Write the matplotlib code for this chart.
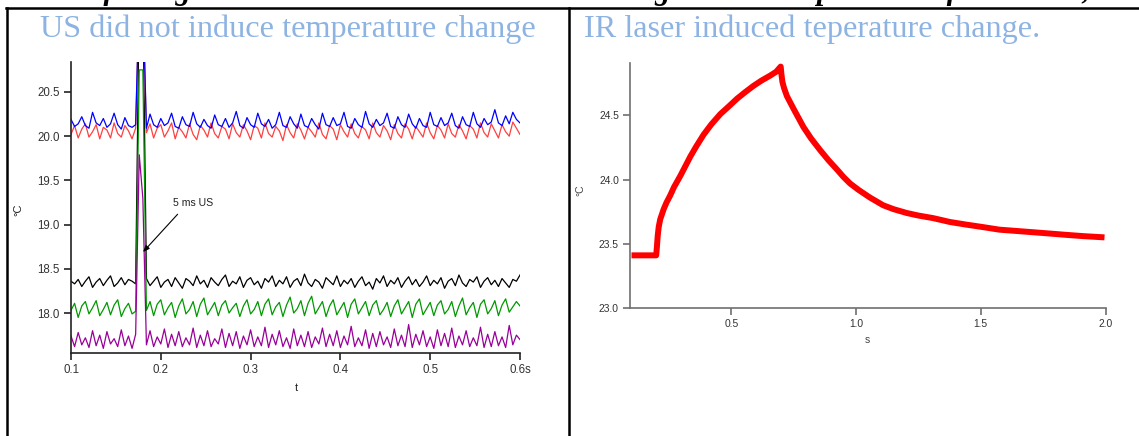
import numpy as np
import matplotlib
matplotlib.use('Agg')
import matplotlib.pyplot as plt
from matplotlib.lines import Line2D

# ---- left panel: 5 thermocouple traces, sampled every 4 ms from 0.1 s to 0.6 s
blue = [20.19, 20.11, 20.14, 20.22, 20.12, 20.09, 20.27, 20.15, 20.12, 20.20,
        20.10, 20.14, 20.26, 20.13, 20.08, 20.21, 20.12, 20.10, 20.13, 21.60,
        21.60, 20.09, 20.25, 20.13, 20.10, 20.20, 20.12, 20.15, 20.26, 20.11,
        20.09, 20.22, 20.13, 20.11, 20.27, 20.14, 20.10, 20.19, 20.12, 20.09,
        20.24, 20.13, 20.11, 20.20, 20.10, 20.15, 20.28, 20.12, 20.09, 20.21,
        20.13, 20.10, 20.26, 20.14, 20.11, 20.19, 20.09, 20.13, 20.27, 20.12,
        20.10, 20.22, 20.14, 20.09, 20.25, 20.12, 20.10, 20.20, 20.13, 20.08,
        20.26, 20.13, 20.11, 20.21, 20.12, 20.14, 20.27, 20.11, 20.09, 20.20,
        20.13, 20.10, 20.28, 20.14, 20.10, 20.19, 20.12, 20.15, 20.26, 20.11,
        20.09, 20.22, 20.13, 20.10, 20.25, 20.14, 20.09, 20.20, 20.12, 20.10,
        20.27, 20.13, 20.11, 20.21, 20.12, 20.15, 20.26, 20.12, 20.09, 20.22,
        20.13, 20.11, 20.27, 20.14, 20.10, 20.20, 20.13, 20.16, 20.30, 20.15,
        20.12, 20.23, 20.14, 20.27, 20.19, 20.15]
red = [20.02, 20.12, 19.98, 20.08, 20.14, 19.99, 20.05, 20.13, 19.97, 20.10,
       20.07, 19.98, 20.15, 20.03, 19.99, 20.12, 20.06, 19.97, 20.09, 21.60,
       21.60, 20.04, 20.14, 19.98, 20.09, 20.13, 19.99, 20.06, 20.15, 19.97,
       20.10, 20.05, 19.98, 20.14, 20.02, 19.96, 20.12, 20.07, 19.99, 20.15,
       20.03, 19.98, 20.11, 20.08, 19.97, 20.14, 20.04, 19.99, 20.13, 20.06,
       19.96, 20.12, 20.09, 19.98, 20.15, 20.03, 19.99, 20.11, 20.06, 19.95,
       20.13, 20.04, 19.98, 20.14, 20.07, 19.97, 20.10, 20.05, 19.99, 20.15,
       20.02, 19.97, 20.12, 20.08, 19.96, 20.13, 20.05, 19.99, 20.14, 20.03,
       19.98, 20.11, 20.07, 19.97, 20.15, 20.04, 19.99, 20.12, 20.06, 19.96,
       20.13, 20.03, 19.98, 20.14, 20.08, 19.97, 20.11, 20.05, 19.99, 20.15,
       20.04, 19.97, 20.12, 20.07, 19.98, 20.14, 20.03, 19.99, 20.13, 20.06,
       19.97, 20.12, 20.08, 19.98, 20.15, 20.04, 19.99, 20.14, 20.06, 19.98,
       20.13, 20.05, 20.00, 20.16, 20.09, 20.02]
black = [18.36, 18.33, 18.38, 18.30, 18.36, 18.41, 18.29, 18.35, 18.39, 18.31,
         18.37, 18.42, 18.30, 18.34, 18.40, 18.32, 18.38, 18.36, 18.33, 21.60,
         21.60, 18.39, 18.31, 18.36, 18.41, 18.29, 18.35, 18.38, 18.30, 18.40,
         18.34, 18.28, 18.39, 18.36, 18.31, 18.42, 18.33, 18.37, 18.29, 18.40,
         18.35, 18.31, 18.38, 18.43, 18.30, 18.36, 18.33, 18.41, 18.29, 18.37,
         18.40, 18.32, 18.36, 18.28, 18.39, 18.35, 18.42, 18.30, 18.37, 18.33,
         18.41, 18.29, 18.36, 18.39, 18.31, 18.44, 18.34, 18.30, 18.38, 18.35,
         18.28, 18.40, 18.36, 18.32, 18.42, 18.30, 18.37, 18.33, 18.39, 18.29,
         18.36, 18.41, 18.31, 18.35, 18.27, 18.39, 18.34, 18.42, 18.30, 18.37,
         18.33, 18.40, 18.29, 18.36, 18.41, 18.32, 18.38, 18.30, 18.35, 18.42,
         18.31, 18.37, 18.33, 18.40, 18.28, 18.36, 18.39, 18.31, 18.43, 18.34,
         18.30, 18.38, 18.35, 18.41, 18.29, 18.36, 18.40, 18.32, 18.37, 18.30,
         18.39, 18.34, 18.29, 18.38, 18.36, 18.43]
green = [18.03, 18.11, 17.95, 18.08, 18.13, 17.99, 18.06, 18.14, 17.97, 18.04,
         18.12, 17.98, 18.09, 18.15, 17.96, 18.05, 18.11, 17.99, 18.02, 20.75,
         20.75, 18.03, 18.13, 17.97, 18.10, 18.15, 17.98, 18.06, 18.12, 17.95,
         18.08, 18.16, 17.99, 18.04, 18.13, 17.96, 18.10, 18.17, 17.98, 18.05,
         18.12, 17.97, 18.09, 18.14, 18.00, 18.06, 18.11, 17.96, 18.08, 18.15,
         17.99, 18.04, 18.13, 17.97, 18.10, 18.16, 17.98, 18.07, 18.12, 17.96,
         18.09, 18.18, 18.00, 18.05, 18.14, 17.97, 18.11, 18.19, 17.99, 18.06,
         18.13, 17.96, 18.08, 18.15, 17.98, 18.05, 18.12, 17.95, 18.10, 18.16,
         17.99, 18.06, 18.13, 17.97, 18.09, 18.14, 17.98, 18.04, 18.12, 17.96,
         18.08, 18.15, 17.99, 18.06, 18.13, 17.95, 18.10, 18.16, 17.98, 18.05,
         18.12, 17.97, 18.09, 18.14, 17.99, 18.04, 18.13, 17.96, 18.08, 18.17,
         17.98, 18.06, 18.12, 17.95, 18.10, 18.15, 17.99, 18.05, 18.14, 17.97,
         18.09, 18.16, 18.01, 18.07, 18.13, 18.08]
purple = [17.74, 17.62, 17.78, 17.64, 17.72, 17.61, 17.80, 17.63, 17.75, 17.60,
          17.79, 17.65, 17.71, 17.62, 17.81, 17.63, 17.74, 17.60, 17.76, 19.79,
          19.30, 17.64, 17.80, 17.62, 17.73, 17.65, 17.82, 17.61, 17.76, 17.63,
          17.79, 17.62, 17.72, 17.64, 17.83, 17.61, 17.75, 17.63, 17.80, 17.62,
          17.71, 17.65, 17.82, 17.61, 17.77, 17.63, 17.79, 17.60, 17.74, 17.64,
          17.81, 17.62, 17.73, 17.63, 17.84, 17.61, 17.76, 17.64, 17.80, 17.62,
          17.72, 17.60, 17.82, 17.63, 17.75, 17.62, 17.79, 17.61, 17.73, 17.65,
          17.83, 17.62, 17.76, 17.63, 17.80, 17.61, 17.74, 17.64, 17.85, 17.62,
          17.72, 17.63, 17.81, 17.60, 17.77, 17.62, 17.79, 17.64, 17.73, 17.61,
          17.82, 17.63, 17.75, 17.62, 17.87, 17.61, 17.76, 17.64, 17.80, 17.62,
          17.73, 17.60, 17.81, 17.63, 17.77, 17.62, 17.83, 17.61, 17.74, 17.64,
          17.80, 17.62, 17.72, 17.63, 17.84, 17.61, 17.76, 17.62, 17.79, 17.63,
          17.73, 17.61, 17.86, 17.64, 17.75, 17.70]

# ---- right panel: IR laser heating curve (s, degC)
ir_t = [0.10, 0.14, 0.18, 0.199, 0.202, 0.205, 0.209, 0.215, 0.229, 0.240,
        0.256, 0.270, 0.296, 0.320, 0.336, 0.360, 0.389, 0.420, 0.456, 0.490,
        0.523, 0.555, 0.589, 0.620, 0.656, 0.680, 0.698, 0.701, 0.705, 0.712,
        0.723, 0.750, 0.789, 0.820, 0.856, 0.890, 0.923, 0.950, 0.976, 1.010,
        1.056, 1.109, 1.150, 1.203, 1.250, 1.309, 1.376, 1.440, 1.509, 1.575,
        1.643, 1.710, 1.776, 1.840, 1.909, 1.996]
ir_c = [23.41, 23.41, 23.41, 23.41, 23.48, 23.56, 23.63, 23.69, 23.77, 23.82,
        23.88, 23.94, 24.03, 24.12, 24.18, 24.26, 24.35, 24.43, 24.51, 24.57,
        24.63, 24.68, 24.73, 24.77, 24.81, 24.84, 24.88, 24.82, 24.76, 24.71,
        24.65, 24.55, 24.41, 24.32, 24.23, 24.15, 24.08, 24.02, 23.97, 23.92,
        23.86, 23.80, 23.77, 23.74, 23.72, 23.70, 23.67, 23.65, 23.63, 23.61,
        23.60, 23.59, 23.58, 23.57, 23.56, 23.55]

W, H = 1139, 436
fig = plt.figure(figsize=(W / 100, H / 100), dpi=100)


def px(x, y):
    return x / W, 1 - y / H


# table borders of the document
fig.add_artist(Line2D([6 / W, 1], [1 - 8 / H] * 2, color='black', lw=1.8))
fig.add_artist(Line2D([7 / W] * 2, [0, 1 - 8 / H], color='black', lw=1.8))
fig.add_artist(Line2D([569 / W] * 2, [0, 1 - 8 / H], color='black', lw=1.8))

# sentence cut off at the top of the screenshot
fig.text(-0.01, 1 + 0.5 / H, 'Results of using the US device on the tissue: no change in the temperature of the tissue, compared with the laser.',
         family='Liberation Serif', fontsize=22, fontweight='bold', style='italic', va='baseline')

title_kw = dict(family='Liberation Serif', fontsize=23.2, color='#8db3e2', va='baseline')
fig.text(*px(40, 37), 'US did not induce temperature change', **title_kw)
fig.text(*px(584, 37), 'IR laser induced teperature change.', **title_kw)

axis_font = 'Liberation Sans'

# ---- left axes
axL = fig.add_axes([71 / W, 1 - 353 / H, 449 / W, 291 / H])
t_us = np.round(0.1 + 0.004 * np.arange(len(blue)), 3)
for vals, col in [(black, 'black'), (green, '#009900'), (purple, '#990099'),
                  (red, '#ff4040'), (blue, '#0000ff')]:
    axL.plot(t_us, vals, color=col, lw=0.9)
axL.set_xlim(0.1, 0.6)
axL.set_ylim(17.548, 20.839)
axL.set_xticks([0.1, 0.2, 0.3, 0.4, 0.5, 0.6])
axL.set_xticklabels(['0.1', '0.2', '0.3', '0.4', '0.5', '0.6s'])
axL.set_yticks([18.0, 18.5, 19.0, 19.5, 20.0, 20.5])
axL.set_yticklabels(['18.0', '18.5', '19.0', '19.5', '20.0', '20.5'])
axL.annotate('5 ms US', xy=(0.1802, 18.69), xytext=(0.2359, 19.24), ha='center', va='center',
             fontsize=7.6, color='#222222', family=axis_font,
             arrowprops=dict(arrowstyle='-|>,head_length=0.5,head_width=0.2', color='black', lw=0.8,
                             shrinkA=3, shrinkB=0, relpos=(0.25, 0.0)))
fig.text(*px(296, 388), 't', fontsize=8, ha='center', va='center', color='#222222', family=axis_font)
fig.text(*px(18, 210), '°C', fontsize=8, ha='center', va='center', rotation=90, color='#222222',
         family=axis_font)

# ---- right axes
axR = fig.add_axes([630 / W, 1 - 308 / H, 475.5 / W, 245 / H])
axR.plot(ir_t, ir_c, color='#ff0000', lw=4.3, solid_joinstyle='round', solid_capstyle='butt')
axR.set_xlim(0.094, 2.0)
axR.set_ylim(23.0, 24.908)
axR.set_xticks([0.5, 1.0, 1.5, 2.0])
axR.set_xticklabels(['0.5', '1.0', '1.5', '2.0'])
axR.set_yticks([23.0, 23.5, 24.0, 24.5])
axR.set_yticklabels(['23.0', '23.5', '24.0', '24.5'])
fig.text(*px(867, 340), 's', fontsize=7.5, ha='center', va='center', color='#444444', family=axis_font)
fig.text(*px(580, 190), '°C', fontsize=7.5, ha='center', va='center', rotation=90, color='#444444',
         family=axis_font)

for ax, c, fs in [(axL, '#222222', 8.3), (axR, '#707070', 7.4)]:
    for side in ['top', 'right']:
        ax.spines[side].set_visible(False)
    for side in ['left', 'bottom']:
        ax.spines[side].set_color(c)
        ax.spines[side].set_linewidth(1.2)
    ax.tick_params(direction='out', length=5, width=1.2, color=c, labelsize=fs,
                   labelcolor='#333333', pad=3)
    for lab in ax.get_xticklabels() + ax.get_yticklabels():
        lab.set_family(axis_font)

fig.savefig('out.png', dpi=100)
